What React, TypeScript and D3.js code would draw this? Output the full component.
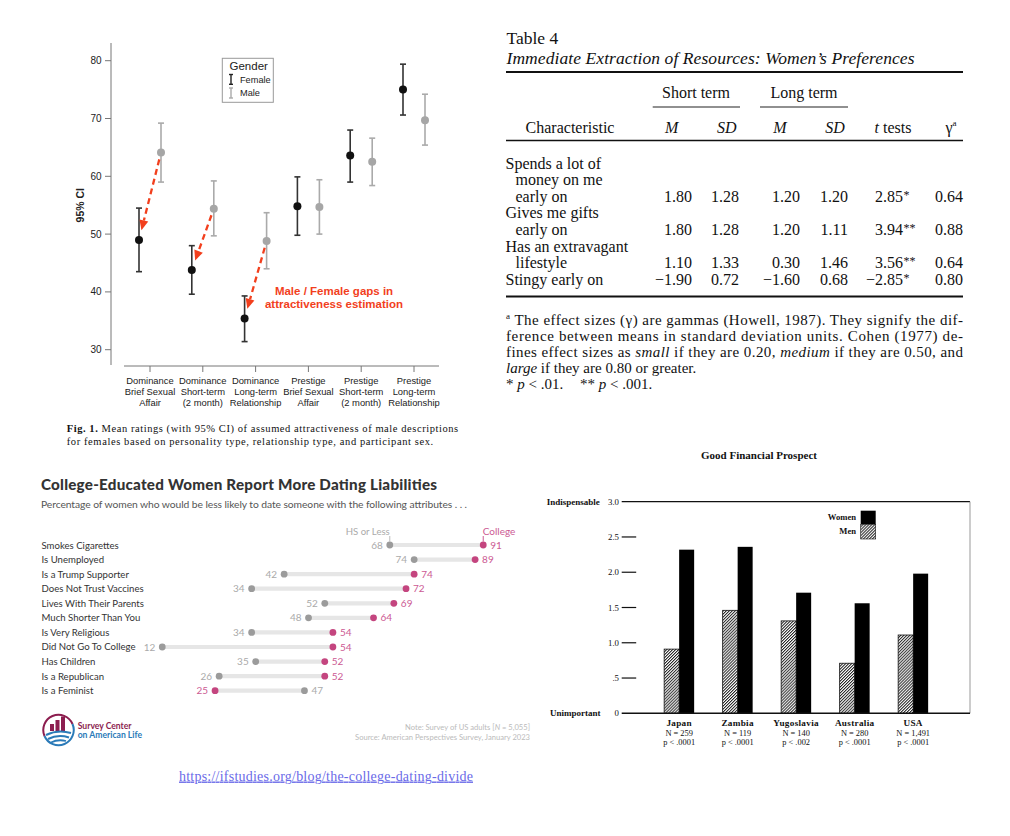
import React from "react";
import * as d3 from "d3";

// ---------- Panel 1: attractiveness ratings ----------
const p1Categories = [
  ["Dominance", "Brief Sexual", "Affair"],
  ["Dominance", "Short-term", "(2 month)"],
  ["Dominance", "Long-term", "Relationship"],
  ["Prestige", "Brief Sexual", "Affair"],
  ["Prestige", "Short-term", "(2 month)"],
  ["Prestige", "Long-term", "Relationship"],
];
const p1FemaleMean = [49.0, 43.8, 35.4, 54.8, 63.6, 75.0];
const p1FemaleLo = [43.5, 39.6, 31.4, 49.8, 59.0, 70.6];
const p1FemaleHi = [54.5, 48.0, 39.3, 59.9, 68.0, 79.4];
const p1MaleMean = [64.1, 54.4, 48.8, 54.7, 62.5, 69.7];
const p1MaleLo = [59.0, 49.7, 44.0, 50.0, 58.4, 65.4];
const p1MaleHi = [69.2, 59.2, 53.7, 59.4, 66.6, 74.2];
const p1Ticks = [30, 40, 50, 60, 70, 80];
const p1ArrowGroups = [0, 1, 2];

// ---------- Panel 2: table ----------
const tblLabels = [
  ["Spends a lot of", "money on me", "early on"],
  ["Gives me gifts", "early on"],
  ["Has an extravagant", "lifestyle"],
  ["Stingy early on"],
];
const tblShortM = ["1.80", "1.80", "1.10", "\u22121.90"];
const tblShortSD = ["1.28", "1.28", "1.33", "0.72"];
const tblLongM = ["1.20", "1.20", "0.30", "\u22121.60"];
const tblLongSD = ["1.20", "1.11", "1.46", "0.68"];
const tblT = ["2.85", "3.94", "3.56", "\u22122.85"];
const tblTStars = ["*", "**", "**", "*"];
const tblGamma = ["0.64", "0.88", "0.64", "0.80"];

// ---------- Panel 3: dumbbell ----------
const dbLabels = [
  "Smokes Cigarettes",
  "Is Unemployed",
  "Is a Trump Supporter",
  "Does Not Trust Vaccines",
  "Lives With Their Parents",
  "Much Shorter Than You",
  "Is Very Religious",
  "Did Not Go To College",
  "Has Children",
  "Is a Republican",
  "Is a Feminist",
];
const dbHS = [68, 74, 42, 34, 52, 48, 34, 12, 35, 26, 47];
const dbCollege = [91, 89, 74, 72, 69, 64, 54, 54, 52, 52, 25];

// ---------- Panel 4: bars ----------
const gfCountries = ["Japan", "Zambia", "Yugoslavia", "Australia", "USA"];
const gfN = ["N = 259", "N = 119", "N = 140", "N = 280", "N = 1,491"];
const gfP = ["p < .0001", "p < .0001", "p < .002", "p < .0001", "p < .0001"];
const gfMen = [0.91, 1.46, 1.31, 0.71, 1.11];
const gfWomen = [2.32, 2.36, 1.71, 1.56, 1.98];
const gfTicks = [0, 0.5, 1, 1.5, 2, 2.5, 3];
const gfTickLabels = ["0", ".5", "1.0", "1.5", "2.0", "2.5", "3.0"];

const SANS = "'Liberation Sans', Arial, sans-serif";
const SERIF = "'Liberation Serif', 'Times New Roman', serif";
const LATO = "Lato, 'Open Sans', sans-serif";

function Panel1() {
  const y = d3.scaleLinear().domain([30, 80]).range([349.7, 60.7]);
  const x = d3
    .scalePoint<string>()
    .domain(p1Categories.map((_, i) => String(i)))
    .range([150, 414]);
  const off = 11;
  const red = "#f23f1d";
  const errBar = (cx: number, lo: number, hi: number, color: string, key: string) => (
    <g key={key} stroke={color} strokeWidth={1.6}>
      <line x1={cx} x2={cx} y1={y(lo)} y2={y(hi)} />
      <line x1={cx - 3} x2={cx + 3} y1={y(lo)} y2={y(lo)} />
      <line x1={cx - 3} x2={cx + 3} y1={y(hi)} y2={y(hi)} />
    </g>
  );
  return (
    <g fontFamily={SANS}>
      {/* y axis */}
      <line x1={111} x2={111} y1={43} y2={365} stroke="#777" />
      {p1Ticks.map((t) => (
        <g key={t}>
          <line x1={105} x2={111} y1={y(t)} y2={y(t)} stroke="#777" />
          <text x={101.5} y={y(t) + 3.5} fontSize={10} textAnchor="end" fill="#222">
            {t}
          </text>
        </g>
      ))}
      <text
        transform={`translate(84,${y(55)}) rotate(-90)`}
        textAnchor="middle"
        fontSize={10.5}
        fontWeight="bold"
        fill="#222"
      >
        95% CI
      </text>
      {/* x axis */}
      <line x1={124} x2={439} y1={366} y2={366} stroke="#777" />
      {p1Categories.map((c, i) => {
        const cx = x(String(i))!;
        return (
          <g key={i}>
            <line x1={cx} x2={cx} y1={366} y2={372} stroke="#777" />
            {c.map((l, j) => (
              <text key={j} x={cx} y={384 + j * 10.8} fontSize={9.4} textAnchor="middle" fill="#222">
                {l}
              </text>
            ))}
          </g>
        );
      })}
      {/* error bars */}
      {p1Categories.map((_, i) => {
        const cx = x(String(i))!;
        return (
          <g key={"e" + i}>
            {errBar(cx - off, p1FemaleLo[i], p1FemaleHi[i], "#333", "f")}
            {errBar(cx + off, p1MaleLo[i], p1MaleHi[i], "#aaa", "m")}
            <circle cx={cx - off} cy={y(p1FemaleMean[i])} r={4} fill="#111" />
            <circle cx={cx + off} cy={y(p1MaleMean[i])} r={4} fill="#a6a6a6" />
          </g>
        );
      })}
      {/* arrows */}
      {p1ArrowGroups.map((i) => {
        const cx = x(String(i))!;
        const mx = cx + off, my = y(p1MaleMean[i]);
        const fx = cx - off, fy = y(p1FemaleMean[i]);
        const dx = fx - mx, dy = fy - my, L = Math.hypot(dx, dy);
        const ux = dx / L, uy = dy / L;
        const sx = mx + ux * 7, sy = my + uy * 7;
        const tx = fx - ux * 10, ty = fy - uy * 10;
        const bx = tx - ux * 10, by = ty - uy * 10;
        const px = -uy * 4.5, py = ux * 4.5;
        return (
          <g key={"a" + i}>
            <line x1={sx} y1={sy} x2={bx} y2={by} stroke={red} strokeWidth={2.3} strokeDasharray="6 4" />
            <polygon points={`${tx},${ty} ${bx + px},${by + py} ${bx - px},${by - py}`} fill={red} />
          </g>
        );
      })}
      <text x={334} y={294.5} fontSize={11.5} fontWeight="bold" fill={red} textAnchor="middle">
        Male / Female gaps in
      </text>
      <text x={334} y={308} fontSize={11.5} fontWeight="bold" fill={red} textAnchor="middle">
        attractiveness estimation
      </text>
      {/* legend */}
      <rect x={222.3} y={58.3} width={51} height={44} fill="white" stroke="#999" />
      <text x={229.5} y={70} fontSize={11.5} fill="#222">
        Gender
      </text>
      <g stroke="#222" strokeWidth={1.4}>
        <line x1={231} x2={231} y1={74.5} y2={84.3} />
        <line x1={229} x2={233} y1={74.5} y2={74.5} />
        <line x1={229} x2={233} y1={84.3} y2={84.3} />
      </g>
      <g stroke="#aaa" strokeWidth={1.4}>
        <line x1={231} x2={231} y1={88} y2={98} />
        <line x1={229} x2={233} y1={88} y2={88} />
        <line x1={229} x2={233} y1={98} y2={98} />
      </g>
      <text x={240} y={82.5} fontSize={9.2} fill="#222">
        Female
      </text>
      <text x={240} y={96} fontSize={9.2} fill="#222">
        Male
      </text>
      {/* caption */}
      <text x={66.7} y={431.5} fontSize={10.5} fontFamily={SERIF} fill="#111" textLength={391.5} lengthAdjust="spacing">
        <tspan fontWeight="bold">Fig. 1.</tspan> Mean ratings (with 95% CI) of assumed attractiveness of male descriptions
      </text>
      <text x={66.7} y={445} fontSize={10.5} fontFamily={SERIF} fill="#111" textLength={366.5} lengthAdjust="spacing">
        for females based on personality type, relationship type, and participant sex.
      </text>
    </g>
  );
}

function Panel2() {
  const lineY = (k: number) => 168.5 + k * 16.6;
  let k = 0;
  const rows = tblLabels.map((lines, i) => {
    const start = k;
    k += lines.length;
    return { lines, start, last: start + lines.length - 1, i };
  });
  const colX = { sm: 692, ssd: 739, lm: 800, lsd: 848, t: 903, g: 963 };
  const fnY = (j: number) => 325 + j * 15.9;
  return (
    <g fontFamily={SERIF} fill="#111">
      <text x={506.5} y={43.5} fontSize={17.5}>
        Table 4
      </text>
      <text x={506.5} y={64} fontSize={17.5} fontStyle="italic" textLength={408} lengthAdjust="spacing">
        Immediate Extraction of Resources: Women’s Preferences
      </text>
      <line x1={506} x2={963} y1={72} y2={72} stroke="#111" strokeWidth={2.2} />
      <text x={696} y={98} fontSize={16} textAnchor="middle">
        Short term
      </text>
      <text x={804} y={98} fontSize={16} textAnchor="middle">
        Long term
      </text>
      <line x1={652.7} x2={740} y1={107} y2={107} stroke="#222" strokeWidth={1.1} />
      <line x1={760} x2={848} y1={107} y2={107} stroke="#222" strokeWidth={1.1} />
      <text x={570} y={133.3} fontSize={16} textAnchor="middle">
        Characteristic
      </text>
      <text x={671.7} y={133.3} fontSize={16} textAnchor="middle" fontStyle="italic">
        M
      </text>
      <text x={726.7} y={133.3} fontSize={16} textAnchor="middle" fontStyle="italic">
        SD
      </text>
      <text x={780} y={133.3} fontSize={16} textAnchor="middle" fontStyle="italic">
        M
      </text>
      <text x={835} y={133.3} fontSize={16} textAnchor="middle" fontStyle="italic">
        SD
      </text>
      <text x={893} y={133.3} fontSize={16} textAnchor="middle">
        <tspan fontStyle="italic">t</tspan> tests
      </text>
      <text x={951} y={133.3} fontSize={16} textAnchor="middle">
        γ<tspan fontSize={9} dy={-7}>a</tspan>
      </text>
      <line x1={506} x2={963} y1={140.5} y2={140.5} stroke="#111" strokeWidth={1.5} />
      {rows.map((r) => (
        <g key={r.i}>
          {r.lines.map((l, j) => (
            <text key={j} x={j === 0 ? 505.5 : 515.5} y={lineY(r.start + j)} fontSize={16}>
              {l}
            </text>
          ))}
          <g fontSize={16} textAnchor="end">
            <text x={colX.sm} y={lineY(r.last)}>{tblShortM[r.i]}</text>
            <text x={colX.ssd} y={lineY(r.last)}>{tblShortSD[r.i]}</text>
            <text x={colX.lm} y={lineY(r.last)}>{tblLongM[r.i]}</text>
            <text x={colX.lsd} y={lineY(r.last)}>{tblLongSD[r.i]}</text>
            <text x={colX.t} y={lineY(r.last)}>{tblT[r.i]}</text>
            <text x={colX.g} y={lineY(r.last)}>{tblGamma[r.i]}</text>
          </g>
          <text x={colX.t + 0.5} y={lineY(r.last) - 3} fontSize={12}>
            {tblTStars[r.i]}
          </text>
        </g>
      ))}
      <line x1={506} x2={963} y1={296.5} y2={296.5} stroke="#111" strokeWidth={2.2} />
      <g fontSize={15}>
        <text x={506} y={fnY(0)} textLength={457} lengthAdjust="spacing">
          <tspan fontSize={9} dy={-6}>a</tspan>
          <tspan dy={6}> The effect sizes (γ) are gammas (Howell, 1987). They signify the dif-</tspan>
        </text>
        <text x={506} y={fnY(1)} textLength={457} lengthAdjust="spacing">
          ference between means in standard deviation units. Cohen (1977) de-
        </text>
        <text x={506} y={fnY(2)} textLength={457} lengthAdjust="spacing">
          fines effect sizes as <tspan fontStyle="italic">small</tspan> if they are 0.20,{" "}
          <tspan fontStyle="italic">medium</tspan> if they are 0.50, and
        </text>
        <text x={506} y={fnY(3)}>
          <tspan fontStyle="italic">large</tspan> if they are 0.80 or greater.
        </text>
        <text x={506} y={fnY(4)}>
          * <tspan fontStyle="italic">p</tspan> &lt; .01.
        </text>
        <text x={580} y={fnY(4)}>
          ** <tspan fontStyle="italic">p</tspan> &lt; .001.
        </text>
      </g>
    </g>
  );
}

function Panel3() {
  const x = d3.scaleLinear().domain([0, 100]).range([113.5, 519.8]);
  const y = d3
    .scalePoint<string>()
    .domain(dbLabels)
    .range([545, 690.7]);
  const pinkDot = "#c4457f";
  const pinkText = "#cc5a93";
  const grayDot = "#9b9b9b";
  const grayText = "#aaa";
  return (
    <g fontFamily={LATO}>
      <text x={41} y={489.5} fontSize={15.2} fontWeight={900} fill="#333" textLength={396} lengthAdjust="spacing">
        College-Educated Women Report More Dating Liabilities
      </text>
      <text x={41} y={508} fontSize={10.3} fill="#555" textLength={426} lengthAdjust="spacing">
        Percentage of women who would be less likely to date someone with the following attributes . . .
      </text>
      <text x={x(dbHS[0])} y={534.5} fontSize={9.6} fill={grayText} textAnchor="end">
        HS or Less
      </text>
      <line x1={x(dbHS[0])} x2={x(dbHS[0])} y1={536} y2={541.5} stroke="#bbb" />
      <text x={x(dbCollege[0]) - 0.5} y={534.5} fontSize={10} fill={pinkText}>
        College
      </text>
      <line x1={x(dbCollege[0])} x2={x(dbCollege[0])} y1={536} y2={541.5} stroke={pinkText} />
      {dbLabels.map((l, i) => {
        const cy = y(l)!;
        const hs = dbHS[i], co = dbCollege[i];
        const lo = Math.min(hs, co), hi = Math.max(hs, co);
        const hsLeft = hs <= co;
        return (
          <g key={l}>
            <text x={41.5} y={cy + 3.5} fontSize={9.6} fill="#333">
              {l}
            </text>
            <line x1={x(lo)} x2={x(hi)} y1={cy} y2={cy} stroke="#e6e6e6" strokeWidth={4.2} />
            <circle cx={x(hs)} cy={cy} r={3.4} fill={grayDot} />
            <circle cx={x(co)} cy={cy} r={3.4} fill={pinkDot} />
            <text
              x={hsLeft ? x(hs) - 7 : x(hs) + 7}
              y={cy + 3.6}
              fontSize={10}
              fill={grayText}
              textAnchor={hsLeft ? "end" : "start"}
            >
              {hs}
            </text>
            <text
              x={hsLeft ? x(co) + 7 : x(co) - 7}
              y={cy + 3.6}
              fontSize={10}
              fill={pinkText}
              textAnchor={hsLeft ? "start" : "end"}
            >
              {co}
            </text>
          </g>
        );
      })}
      {/* logo */}
      <g>
        <path d="M 44.5 736 A 15 15 0 1 1 72.5 724" fill="none" stroke="#8c1d4f" strokeWidth={2} />
        <path d="M 72.5 724 A 15 15 0 0 1 44.5 736" fill="none" stroke="#2a7ab8" strokeWidth={2} />
        <rect x={50} y={724} width={4} height={7} fill="#8c1d4f" />
        <rect x={55.5} y={720} width={4} height={11} fill="#8c1d4f" />
        <rect x={61} y={716.5} width={4} height={14.5} fill="#8c1d4f" />
        <path d="M 46 735 Q 58 729 71 733" fill="none" stroke="#2a7ab8" strokeWidth={2} />
        <path d="M 48 739 Q 58 734 69 737.5" fill="none" stroke="#2a7ab8" strokeWidth={2} />
        <path d="M 51 742.5 Q 58 739 66 741" fill="none" stroke="#2a7ab8" strokeWidth={1.8} />
      </g>
      <text x={77.7} y={729} fontSize={8.6} fontWeight={700} fill="#8c1d4f">
        Survey Center
      </text>
      <text x={77.7} y={737.8} fontSize={8.6} fontWeight={700} fill="#2a7ab8">
        on American Life
      </text>
      <text x={530} y={729.5} fontSize={7.6} fill="#bbb" textAnchor="end">
        Note: Survey of US adults [<tspan fontStyle="italic">N</tspan> = 5,055]
      </text>
      <text x={530} y={739.5} fontSize={7.6} fill="#bbb" textAnchor="end">
        Source: American Perspectives Survey, January 2023
      </text>
    </g>
  );
}

function Panel4() {
  const y = d3.scaleLinear().domain([0, 3]).range([713.3, 501.7]);
  const x = d3.scaleBand<string>().domain(gfCountries).range([649.9, 942.4]);
  const left = 621.7, right = 970;
  const bw = 15;
  return (
    <g fontFamily={SERIF} fill="#111">
      <defs>
        <pattern id="hatch" width={2.1} height={2.1} patternUnits="userSpaceOnUse" patternTransform="rotate(45)">
          <rect width={2.1} height={2.1} fill="#fff" />
          <line x1={0.5} y1={0} x2={0.5} y2={2.1} stroke="#222" strokeWidth={1} />
        </pattern>
      </defs>
      <text x={759} y={459} fontSize={11} fontWeight="bold" textAnchor="middle">
        Good Financial Prospect
      </text>
      <line x1={left} x2={right} y1={y(3)} y2={y(3)} stroke="#111" strokeWidth={1.3} />
      <line x1={right} x2={right} y1={y(3)} y2={y(0)} stroke="#999" strokeWidth={1} />
      {gfTicks.map((t, i) => (
        <g key={t}>
          {t > 0 && t < 3 && <line x1={left} x2={left + 14.5} y1={y(t)} y2={y(t)} stroke="#111" strokeWidth={1.2} />}
          <text x={619} y={y(t) + 3} fontSize={8.8} textAnchor="end">
            {gfTickLabels[i]}
          </text>
        </g>
      ))}
      <text x={546.7} y={y(3) + 3} fontSize={9} fontWeight="bold">
        Indispensable
      </text>
      <text x={550} y={y(0) + 3} fontSize={9} fontWeight="bold">
        Unimportant
      </text>
      {gfCountries.map((c, i) => {
        const cx = x(c)! + x.bandwidth() / 2;
        return (
          <g key={c}>
            <rect
              x={cx - bw}
              y={y(gfMen[i])}
              width={bw}
              height={y(0) - y(gfMen[i])}
              fill="url(#hatch)"
              stroke="#111"
              strokeWidth={0.8}
            />
            <rect x={cx} y={y(gfWomen[i])} width={bw} height={y(0) - y(gfWomen[i])} fill="#000" />
            <text x={cx} y={726.3} fontSize={9.2} fontWeight="bold" textAnchor="middle" letterSpacing={0.3}>
              {c}
            </text>
            <text x={cx} y={736.3} fontSize={8.4} textAnchor="middle">
              {gfN[i]}
            </text>
            <text x={cx} y={744.7} fontSize={8.4} textAnchor="middle">
              {gfP[i]}
            </text>
          </g>
        );
      })}
      <line x1={left} x2={right} y1={y(0)} y2={y(0)} stroke="#111" strokeWidth={1.6} />
      {/* legend */}
      <text x={856} y={520} fontSize={8.6} fontWeight="bold" textAnchor="end">
        Women
      </text>
      <rect x={860.7} y={510.7} width={15} height={13.6} fill="#000" />
      <text x={856} y={533.5} fontSize={8.6} fontWeight="bold" textAnchor="end">
        Men
      </text>
      <rect x={860.7} y={524.3} width={15} height={14.7} fill="url(#hatch)" stroke="#111" strokeWidth={0.6} />
    </g>
  );
}

export default function App() {
  return (
    <svg
      width={1010}
      height={836}
      viewBox="0 0 1010 836"
      style={{ position: "absolute", left: 0, top: 0, background: "#fff" }}
    >
      <rect x={0} y={0} width={1010} height={836} fill="#fff" />
      <Panel1 />
      <Panel2 />
      <Panel3 />
      <Panel4 />
      <a href="https://ifstudies.org/blog/the-college-dating-divide">
        <text
          x={179}
          y={780.5}
          fontSize={14}
          fontFamily={SERIF}
          fill="#6a6ae8"
          textDecoration="underline"
          textLength={294}
          lengthAdjust="spacing"
        >
          https://ifstudies.org/blog/the-college-dating-divide
        </text>
      </a>
    </svg>
  );
}
